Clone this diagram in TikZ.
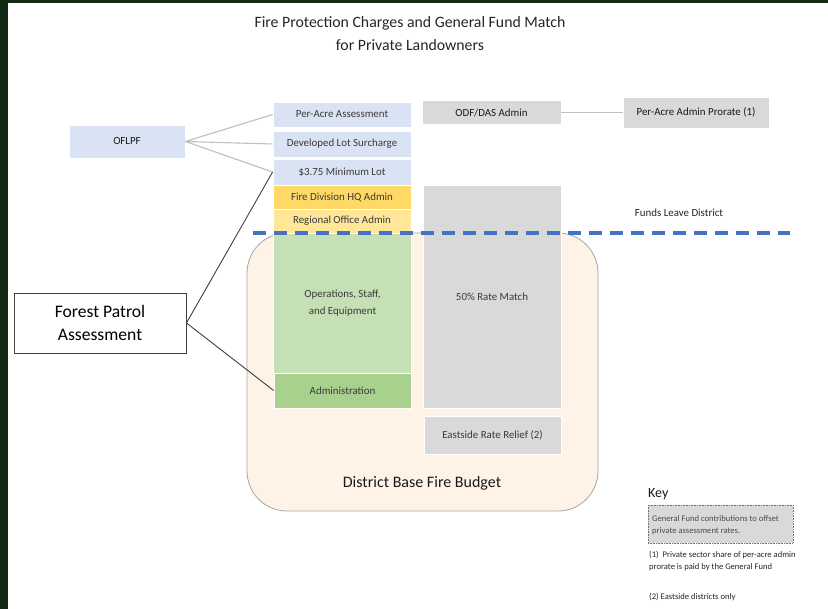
\documentclass[tikz,border=0pt]{standalone}
\usepackage{fontspec}
\setmainfont{Carlito}
\definecolor{frame}{HTML}{132A14}
\definecolor{lblue}{HTML}{DAE3F3}
\definecolor{gold}{HTML}{FFD966}
\definecolor{lgold}{HTML}{FFE699}
\definecolor{lgreen}{HTML}{C5E0B4}
\definecolor{mgreen}{HTML}{A9D18E}
\definecolor{lgray}{HTML}{D9D9D9}
\definecolor{peach}{HTML}{FFF3E7}
\definecolor{txt}{HTML}{3A3A3A}
\definecolor{dblue}{HTML}{4472C4}
\begin{document}
\begin{tikzpicture}[x=1pt,y=-1pt,
  box/.style={draw=white, line width=0.8pt, inner sep=0pt, text=txt, align=center,
    font=\fontsize{10.9}{16.5}\selectfont},
  thinlink/.style={draw=black!25, line width=1.1pt},
  darklink/.style={draw=black!75, line width=0.9pt},
  keytext/.style={anchor=west, inner sep=0pt, text=black!85, font=\fontsize{8.6}{12}\selectfont, align=left}]
\useasboundingbox (0,0) rectangle (828,609);
\fill[frame] (0,0) rectangle (828,609);
\fill[white] (8,3) rectangle (828,609);

% title
\node[text=black!85, align=center, font=\fontsize{15.8}{23}\selectfont] (title) at (410,33.5)
  {Fire Protection Charges and General Fund Match\\for Private Landowners};

% district budget
\node[draw=black!35, line width=0.8pt, fill=peach, rounded corners=40pt, minimum width=351pt, minimum height=278pt, inner sep=0pt] (district) at (422.5,372) {};
\node[text=black!90, font=\fontsize{16}{19}\selectfont] (districtlbl) at (422,483) {District Base Fire Budget};

% left column
\node[box, fill=lblue, minimum width=138pt, minimum height=25pt] (peracre) at (342,114.5) {Per-Acre Assessment};
\node[box, fill=lblue, minimum width=138pt, minimum height=26pt] (devlot) at (342,144) {Developed Lot Surcharge};
\node[box, fill=lblue, minimum width=138pt, minimum height=26pt] (minlot) at (342,172) {\$3.75 Minimum Lot};
\node[box, fill=gold, minimum width=138pt, minimum height=24pt] (firehq) at (342,197) {Fire Division HQ Admin};
\node[box, fill=lgold, minimum width=138pt, minimum height=24pt] (regional) at (342,221) {Regional Office Admin};
\node[box, fill=lgreen, minimum width=138pt, minimum height=140pt] (ops) at (342.5,303) {Operations, Staff,\\and Equipment};
\node[box, fill=mgreen, minimum width=137pt, minimum height=35pt] (admin) at (342.5,390.5) {Administration};

% middle column
\node[box, fill=lgray, minimum width=139pt, minimum height=24pt, text=black!90] (odf) at (491.5,112.5) {ODF/DAS Admin};
\node[box, fill=lgray, minimum width=138pt, minimum height=223pt] (match) at (492,296.5) {50\% Rate Match};
\node[box, fill=lgray, minimum width=137pt, minimum height=38pt] (eastside) at (492.5,435) {Eastside Rate Relief (2)};
\node[box, fill=lgray, minimum width=146pt, minimum height=31pt, text=black!90] (prorate) at (696,112.5) {Per-Acre Admin Prorate (1)};

% OFLPF
\node[box, fill=lblue, minimum width=116pt, minimum height=33pt, text=black!90] (oflpf) at (127,141.5) {OFLPF};
\draw[thinlink] (oflpf.east) -- (peracre.west);
\draw[thinlink] (oflpf.east) -- (devlot.west);
\draw[thinlink] (oflpf.east) -- (minlot.west);
\draw[thinlink] (odf.east) -- (prorate.west);

% Forest Patrol Assessment
\node[draw=black!75, line width=0.9pt, fill=white, minimum width=172pt, minimum height=60pt, inner sep=0pt, align=center,
  font=\fontsize{17.6}{23}\selectfont] (fpa) at (100,323) {Forest Patrol\\Assessment};
\draw[darklink] (fpa.east) -- (minlot.west);
\draw[darklink] (fpa.east) -- (admin.west);

% funds leave district
\coordinate (dashL) at (253,233);
\coordinate (dashR) at (790,233);
\draw[dblue, line width=4pt, dash pattern=on 13pt off 8pt] (dashL) -- (dashR);
\node[text=black!85, font=\fontsize{10.9}{13}\selectfont] (leave) at (679,213) {Funds Leave District};

% key
\node[anchor=west, inner sep=0pt, text=black!90, font=\fontsize{14}{17}\selectfont] (key) at (648,494) {Key};
\node[draw=black!55, densely dotted, line width=0.6pt, fill=lgray, minimum width=145pt, minimum height=38pt, inner sep=0pt] (keybox) at (720.5,524) {};
\node[keytext, text=black!70] (keyboxtxt) at (652,525.5) {General Fund contributions to offset\\private assessment rates.};
\node[keytext] (note1) at (649,561) {(1)\ \ Private sector share of per-acre admin\\prorate is paid by the General Fund};
\node[keytext] (note2) at (649,597) {(2) Eastside districts only};
\end{tikzpicture}
\end{document}
